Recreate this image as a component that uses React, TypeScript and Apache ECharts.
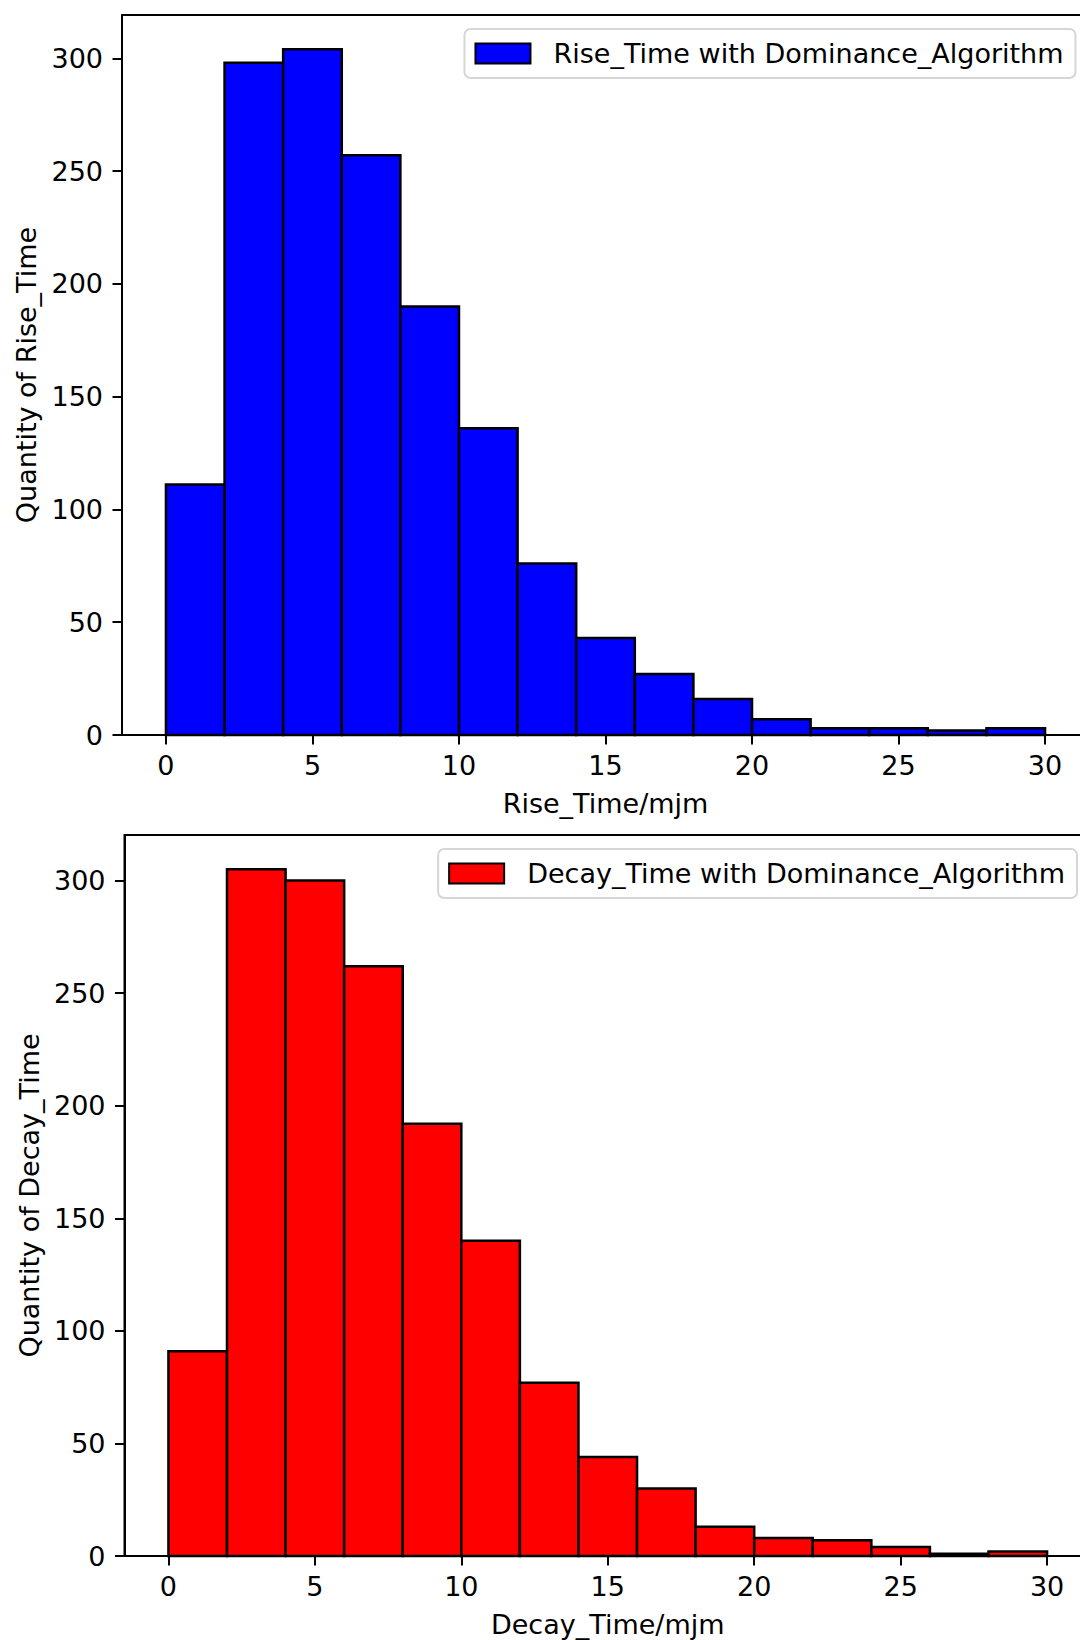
import React, { useEffect, useRef } from "react";
import * as echarts from "echarts";

const binEdges = [0, 2, 4, 6, 8, 10, 12, 14, 16, 18, 20, 22, 24, 26, 28, 30];
const riseCounts = [111, 298, 304, 257, 190, 136, 76, 43, 27, 16, 7, 3, 3, 2, 3];
const decayCounts = [91, 305, 300, 262, 192, 140, 77, 44, 30, 13, 8, 7, 4, 1, 2];
const xTicks = [0, 5, 10, 15, 20, 25, 30];
const yTicks = [0, 50, 100, 150, 200, 250, 300];
const riseName = "Rise_Time with Dominance_Algorithm";
const decayName = "Decay_Time with Dominance_Algorithm";
const riseXLabel = "Rise_Time/mjm";
const decayXLabel = "Decay_Time/mjm";
const riseYLabel = "Quantity of Rise_Time";
const decayYLabel = "Quantity of Decay_Time";

const FONT = "DejaVu Sans";
const CANVAS_W = 1120;

function binData(counts: number[]) {
  return counts.map((c, i) => [binEdges[i], binEdges[i + 1], c]);
}

function makeRender(color: string) {
  return (params: any, api: any) => {
    const x0 = api.value(0);
    const x1 = api.value(1);
    const y = api.value(2);
    const p0 = api.coord([x0, 0]);
    const p1 = api.coord([x1, y]);
    return {
      type: "rect",
      shape: { x: p0[0], y: p1[1], width: p1[0] - p0[0], height: p0[1] - p1[1] },
      style: { fill: color, stroke: "#000", lineWidth: 2.5 },
    };
  };
}

function xAxisCfg(gridIndex: number, name: string) {
  return {
    type: "value",
    gridIndex,
    min: -1.5,
    max: 31.5,
    name,
    nameLocation: "middle",
    nameGap: 55,
    nameTextStyle: { fontSize: 27, color: "#000", fontFamily: FONT },
    axisLine: { show: true, onZero: false, lineStyle: { color: "#000", width: 2 } },
    axisTick: { show: true, length: 9.5, customValues: xTicks, lineStyle: { color: "#000", width: 2 } },
    axisLabel: { customValues: xTicks, fontSize: 27, color: "#000", fontFamily: FONT, margin: 17 },
    splitLine: { show: false },
  };
}

function yAxisCfg(gridIndex: number, name: string, max: number) {
  return {
    type: "value",
    gridIndex,
    min: 0,
    max,
    name,
    nameLocation: "middle",
    nameGap: 82,
    nameTextStyle: { fontSize: 27, color: "#000", fontFamily: FONT },
    axisLine: { show: true, onZero: false, lineStyle: { color: "#000", width: 2 } },
    axisTick: { show: true, length: 9.5, customValues: yTicks, lineStyle: { color: "#000", width: 2 } },
    axisLabel: { customValues: yTicks, fontSize: 27, color: "#000", fontFamily: FONT, margin: 19 },
    splitLine: { show: false },
  };
}

function legendCfg(name: string, top: number, right: number) {
  return {
    data: [name],
    top,
    right,
    orient: "horizontal",
    icon: "rect",
    itemWidth: 55,
    itemHeight: 20,
    padding: [11, 12, 11, 10],
    backgroundColor: "rgba(255,255,255,0.8)",
    borderColor: "#d6d6d6",
    borderWidth: 2,
    borderRadius: 6,
    itemStyle: { borderColor: "#000", borderWidth: 2 },
    textStyle: { fontSize: 27, color: "#000", fontFamily: FONT, padding: [0, 0, 0, 18] },
    selectedMode: false,
  };
}

export default function App() {
  const ref = useRef<HTMLDivElement>(null);
  useEffect(() => {
    if (!ref.current) return;
    const chart = echarts.init(ref.current, null, { renderer: "svg" });
    const option: any = {
      animation: false,
      backgroundColor: "#fff",
      grid: [
        { left: 122, top: 15, width: 967, height: 720, show: true, borderColor: "#000", borderWidth: 2 },
        { left: 124.5, top: 835, width: 966.5, height: 721, show: true, borderColor: "#000", borderWidth: 2 },
      ],
      xAxis: [xAxisCfg(0, riseXLabel), xAxisCfg(1, decayXLabel)],
      yAxis: [yAxisCfg(0, riseYLabel, 304 * 1.05), yAxisCfg(1, decayYLabel, 305 * 1.05)],
      legend: [legendCfg(riseName, 29, CANVAS_W - 1075.5), legendCfg(decayName, 849, CANVAS_W - 1077)],
      series: [
        {
          type: "custom",
          name: riseName,
          xAxisIndex: 0,
          yAxisIndex: 0,
          renderItem: makeRender("#0000ff"),
          itemStyle: { color: "#0000ff", borderColor: "#000", borderWidth: 2 },
          encode: { x: [0, 1], y: 2 },
          data: binData(riseCounts),
        },
        {
          type: "custom",
          name: decayName,
          xAxisIndex: 1,
          yAxisIndex: 1,
          renderItem: makeRender("#ff0000"),
          itemStyle: { color: "#ff0000", borderColor: "#000", borderWidth: 2 },
          encode: { x: [0, 1], y: 2 },
          data: binData(decayCounts),
        },
      ],
    };
    chart.setOption(option);
    return () => chart.dispose();
  }, []);
  return (
    <div
      style={{ position: "absolute", left: 0, top: 0, width: 1080, height: 1640, overflow: "hidden", background: "#fff" }}
    >
      <div ref={ref} style={{ width: CANVAS_W, height: 1640 }} />
    </div>
  );
}
